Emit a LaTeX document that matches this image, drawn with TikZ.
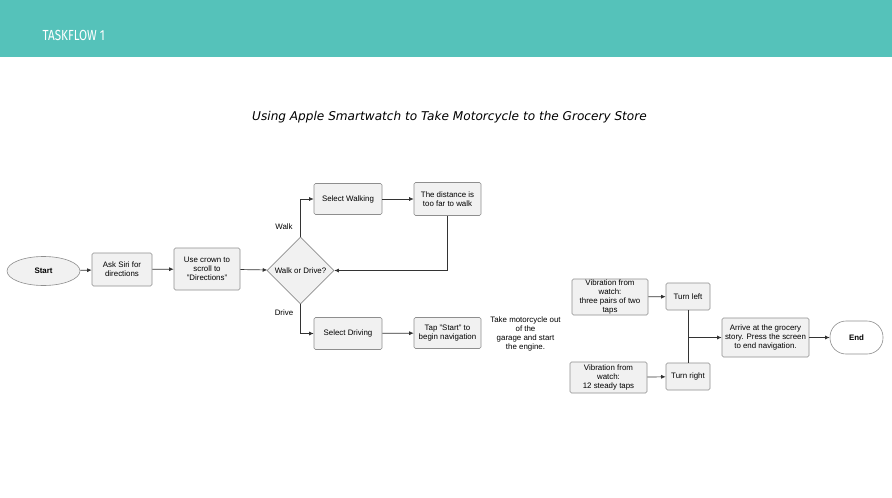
\documentclass[tikz,border=0pt]{standalone}
\usepackage{fontspec}
\setmainfont{Liberation Sans}
\newfontfamily\titlefont{DejaVu Sans}
\newfontfamily\headfont[FakeStretch=0.8]{Fira Sans}
\usetikzlibrary{shapes.geometric,arrows.meta}
\definecolor{band}{HTML}{55C2BA}
\definecolor{boxfill}{HTML}{F1F1F1}
\definecolor{boxline}{HTML}{8E8E8E}
\definecolor{conn}{HTML}{333333}
\tikzset{
  every node/.style={font=\fontsize{7.9}{9.3}\selectfont, text=black},
  box/.style={draw=boxline, fill=boxfill, rounded corners=1.5pt, inner sep=0pt, align=center, line width=0.6pt},
  startshape/.style={ellipse, draw=boxline, fill=boxfill, inner sep=0pt, line width=0.6pt, minimum width=73pt, minimum height=29pt, font=\fontsize{7.9}{9.3}\selectfont\bfseries},
  endshape/.style={draw=boxline, fill=white, rounded corners=16pt, inner sep=0pt, line width=0.6pt, minimum width=53pt, minimum height=33pt, font=\fontsize{7.9}{9.3}\selectfont\bfseries},
  decision/.style={diamond, draw=boxline, fill=boxfill, inner sep=0pt, line width=0.6pt, minimum width=67pt, minimum height=67pt},
  plain/.style={align=center, inner sep=0pt},
  arr/.style={draw=conn, line width=0.7pt, -{Latex[length=4.5pt,width=4pt]}},
  ln/.style={draw=conn, line width=0.7pt},
}
\begin{document}
\begin{tikzpicture}[x=1pt,y=-1pt]
\useasboundingbox (0,0) rectangle (892,498);
\fill[white] (0,0) rectangle (892,498);
\fill[band] (0,0) rectangle (892,56.5);
\node[anchor=west, inner sep=0pt, text=white, font=\headfont\fontsize{14.6}{16}\selectfont] (head) at (42.5,35) {TASKFLOW 1};
\node[inner sep=0pt, font=\titlefont\itshape\fontsize{12.1}{14}\selectfont] (title) at (449.5,117.5) {Using Apple Smartwatch to Take Motorcycle to the Grocery Store};

\node[startshape] (start) at (43.5,271) {Start};
\node[box, minimum width=60pt, minimum height=33pt] (siri) at (122,269.5) {Ask Siri for\\directions};
\node[box, minimum width=66pt, minimum height=42pt] (crown) at (207,269) {Use crown to\\scroll to\\"Directions"};
\node[decision] (dec) at (300.5,270.5) {};
\node[plain] (dectext) at (dec) {Walk or Drive?};
\node[box, minimum width=68pt, minimum height=31pt] (walk) at (348,199) {Select Walking};
\node[box, minimum width=67pt, minimum height=33pt] (far) at (447.5,199) {The distance is\\too far to walk};
\node[box, minimum width=68pt, minimum height=32pt] (drive) at (348,333.5) {Select Driving};
\node[box, minimum width=67pt, minimum height=31pt] (tap) at (447.5,333) {Tap "Start" to\\begin navigation};
\node[plain] (moto) at (525.5,334) {Take motorcycle out\\of the\\garage and start\\the engine.};
\node[box, minimum width=76pt, minimum height=36pt] (vib1) at (610,297) {Vibration from\\watch:\\three pairs of two\\taps};
\node[box, minimum width=44pt, minimum height=27pt] (left) at (688,296.5) {Turn left};
\node[box, minimum width=77pt, minimum height=31pt] (vib2) at (608.5,377.5) {Vibration from\\watch:\\12 steady taps};
\node[box, minimum width=44pt, minimum height=27pt] (right) at (688,376.5) {Turn right};
\node[box, minimum width=87pt, minimum height=39pt] (arrive) at (765.5,337.5) {Arrive at the grocery\\story. Press the screen\\to end navigation.};
\node[endshape] (end) at (856.5,337.5) {End};

\node[plain] (walklbl) at (284,226.5) {Walk};
\node[plain] (drivelbl) at (284,312.5) {Drive};

\draw[arr] (start) -- (siri);
\draw[arr] (siri) -- (crown);
\draw[arr] (crown) -- (dec);
\draw[arr] (dec.north) |- (walk.west);
\draw[arr] (walk) -- (far);
\draw[arr] (far.south) |- (dec.east);
\draw[arr] (dec.south) |- (drive.west);
\draw[arr] (drive) -- (tap);
\draw[arr] (vib1) -- (left);
\draw[arr] (vib2) -- (right);
\draw[ln] (left.south) -- (right.north);
\coordinate (junc) at (left.south |- arrive.west);
\draw[arr] (junc) -- (arrive.west);
\draw[arr] (arrive) -- (end);
\end{tikzpicture}
\end{document}
